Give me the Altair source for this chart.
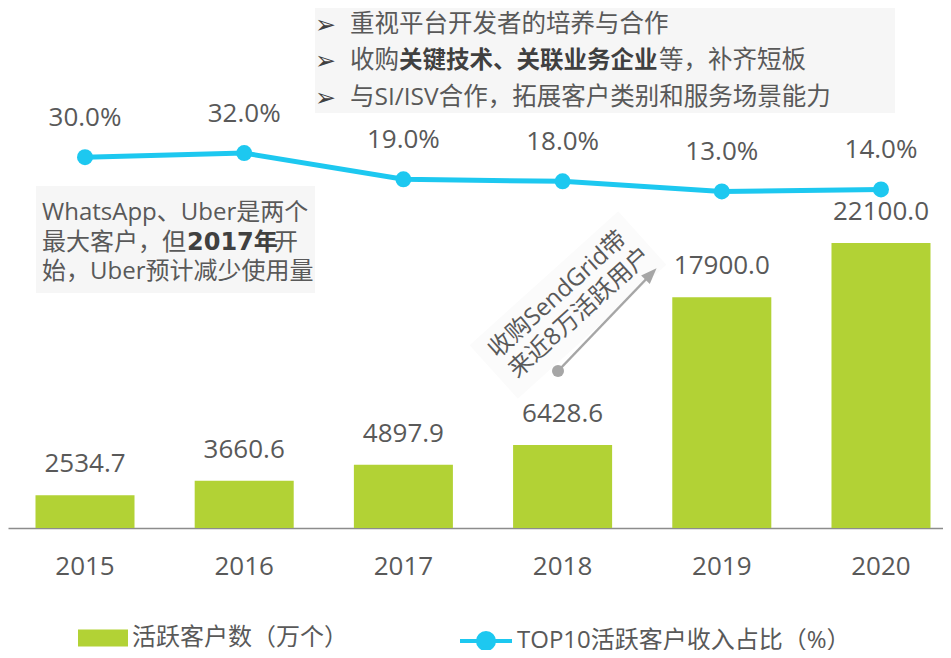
import altair as alt
import pandas as pd

years = ["2015", "2016", "2017", "2018", "2019", "2020"]
customers = [2534.7, 3660.6, 4897.9, 6428.6, 17900.0, 22100.0]
share = [30.0, 32.0, 19.0, 18.0, 13.0, 14.0]
bar_series = "活跃客户数（万个）"
line_series = "TOP10活跃客户收入占比（%）"

top_line1 = "重视平台开发者的培养与合作"
top_line2 = ["收购", "关键技术、关联业务企业", "等，补齐短板"]
top_line3 = "与SI/ISV合作，拓展客户类别和服务场景能力"
left_line1 = "WhatsApp、Uber是两个"
left_line2 = ["最大客户，但", "2017年", "开"]
left_line3 = "始，Uber预计减少使用量"
rot_lines = ["收购SendGrid带", "来近8万活跃用户"]

FONT = "Open Sans, Noto Sans CJK SC, DejaVu Sans"
BOLD_DIGIT_FONT = "DejaVu Sans, Noto Sans CJK SC"
TXT = "#595959"
DARK = "#404040"
GREEN = "#B2D235"
CYAN = "#1DC8F0"
BOXBG = "#F6F6F6"
ARROW = "#A6A6A6"

df = pd.DataFrame({
    "year": years,
    "customers": customers,
    "share": share,
    "bar_label": [f"{v:.1f}" for v in customers],
    "share_label": [f"{v:.1f}%" for v in share],
    "bar_series": [bar_series] * len(years),
    "line_series": [line_series] * len(years),
})

x_scale = alt.Scale(paddingInner=0.378, paddingOuter=0.1256, align=0.6875)
x_axis = alt.Axis(title=None, labelAngle=0, ticks=False, labelFontSize=26,
                  labelColor=TXT, labelFont=FONT, labelPadding=25,
                  domainColor="#8C8C8C", domainWidth=1.5, grid=False)
x_enc = alt.X("year:N", sort=years, scale=x_scale, axis=x_axis)

y_bar = alt.Y("customers:Q", scale=alt.Scale(domain=[0, 40323], nice=False, zero=True), axis=None)
y_line = alt.Y("share:Q", scale=alt.Scale(domain=[-154, 104], nice=False, zero=False), axis=None)

base = alt.Chart(df)

bars = base.mark_bar().encode(
    x=x_enc,
    y=y_bar,
    fill=alt.Fill("bar_series:N", scale=alt.Scale(range=[GREEN]),
                  legend=alt.Legend(title=None, orient="none", legendX=70, legendY=605,
                                    symbolType="M-1,-0.34H1V0.34H-1Z", symbolSize=2500,
                                    symbolStrokeWidth=0, labelFontSize=24, labelFont=FONT,
                                    labelColor=TXT, labelOffset=4, labelLimit=0, padding=0)),
)
bar_text = base.mark_text(dy=-23, baseline="alphabetic", fontSize=26, font=FONT, color=TXT).encode(
    x=x_enc, y=y_bar, text="bar_label:N")

bar_layer = alt.layer(bars, bar_text)

line = base.mark_line(strokeWidth=5).encode(
    x=x_enc,
    y=y_line,
    stroke=alt.Stroke("line_series:N", scale=alt.Scale(range=[CYAN]),
                      legend=alt.Legend(title=None, orient="none", legendX=450, legendY=605,
                                        symbolType="M-1,0H1M-0.31,0A0.31,0.31,0,1,1,0.31,0A0.31,0.31,0,1,1,-0.31,0Z",
                                        symbolSize=2704, symbolStrokeWidth=4, symbolFillColor=CYAN,
                                        labelFontSize=24, labelFont=FONT, labelColor=TXT,
                                        labelOffset=3, labelLimit=0, padding=0)),
)
pts = base.mark_point(filled=True, size=256, opacity=1, color=CYAN, shape="circle").encode(
    x=x_enc, y=y_line)
line_text = base.mark_text(dy=-31, baseline="alphabetic", fontSize=26, font=FONT, color=TXT).encode(
    x=x_enc, y=y_line, text="share_label:N")

line_layer = alt.layer(line, pts, line_text)


def one():
    return alt.Chart(pd.DataFrame({"a": [0]}))


def box(x1, x2, y1, y2):
    return one().mark_rect(color=BOXBG).encode(
        x=alt.value(x1), x2=alt.value(x2), y=alt.value(y1), y2=alt.value(y2))


def txt(s, x, y, size=24, bold=False, color=TXT, align="left", angle=0, font=FONT):
    kw = dict(align=align, baseline="middle", fontSize=size, font=font, color=color,
              fontWeight="bold" if bold else "normal")
    if angle:
        kw["angle"] = angle
    return alt.Chart(pd.DataFrame({"t": [s]})).mark_text(**kw).encode(
        x=alt.value(x), y=alt.value(y), text="t:N")


rot_box = one().mark_point(
    filled=True, opacity=1, color="#FBFBFB", size=40000,
    shape="M-1,-0.36H1V0.36H-1Z", angle=318).encode(x=alt.value(560), y=alt.value(297))

TS = 24.5
ann = [
    box(307, 887, -8, 105),
    box(28, 307, 178, 285),
    rot_box,
    txt("➢", 307, 17, size=25, color=DARK, font="DejaVu Sans"),
    txt(top_line1, 342, 17, size=TS),
    txt("➢", 307, 53, size=25, color=DARK, font="DejaVu Sans"),
    txt(top_line2[0], 342, 53, size=TS),
    txt(top_line2[1], 391, 53, size=23.5, bold=True, color=DARK),
    txt(top_line2[2], 651, 53, size=TS),
    txt("➢", 307, 90, size=25, color=DARK, font="DejaVu Sans"),
    txt(top_line3, 342, 90, size=TS),
    txt(left_line1, 34, 205),
    txt(left_line2[0], 34, 235),
    txt(left_line2[1], 179, 235, bold=True, color=DARK, font=BOLD_DIGIT_FONT),
    txt(left_line2[2], 266, 235),
    txt(left_line3, 34, 264),
    txt(rot_lines[0], 550, 287, align="center", angle=318),
    txt(rot_lines[1], 572, 305, align="center", angle=318),
]

arrow_line = one().mark_rule(color=ARROW, strokeWidth=2.5).encode(
    x=alt.value(550), y=alt.value(363), x2=alt.value(644), y2=alt.value(265))
arrow_dot = one().mark_point(
    filled=True, opacity=1, color=ARROW, size=144, shape="circle").encode(
    x=alt.value(550), y=alt.value(363))
arrow_head = one().mark_point(
    filled=True, opacity=1, color=ARROW, size=256, shape="M0,-1L0.75,1L-0.75,1Z", angle=44).encode(
    x=alt.value(643), y=alt.value(266))

chart = alt.layer(
    *ann, arrow_line, arrow_dot, arrow_head, bar_layer, line_layer
).resolve_scale(y="independent").properties(
    width=935, height=520,
    background="white",
    autosize=alt.AutoSizeParams(type="none"),
    padding={"left": 0, "top": 0, "right": 0, "bottom": 122},
).configure_view(stroke=None)

chart.save("out.html", embed_options={"renderer": "svg", "actions": False})
